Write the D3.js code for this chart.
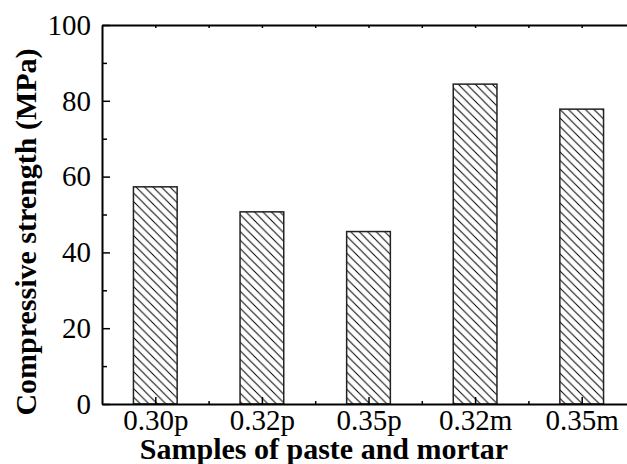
<!DOCTYPE html>
<html>
<head>
<meta charset="utf-8">
<script src="https://cdn.jsdelivr.net/npm/d3@7"></script>
<style>
  body { margin: 0; background: #fff; }
  svg { display: block; }
  text { font-family: "Times New Roman", "Liberation Serif", serif; fill: #000; }
</style>
</head>
<body>
<div id="chart"></div>
<script>
// data
var categories = ["0.30p", "0.32p", "0.35p", "0.32m", "0.35m"];
var strength = [57.3, 50.7, 45.5, 84.4, 77.8];
var yTicks = [0, 20, 40, 60, 80, 100];
var yMinor = [10, 30, 50, 70, 90];

function init(){

var w = 627;
var h = 464;

var dataset = categories.map(function(c, i) {
  return { name: c, pos: i + 1, value: strength[i] };
});

// x runs past the right edge like in the original (cropped)
var xScale = d3.scaleLinear()
                .domain([0.5, 5.5])
                .range([102, 635]);
var yScale = d3.scaleLinear()
                .domain([0, 100])
                .range([404, 25]);

var barW = (xScale(2) - xScale(1)) * 0.41;

var svg = d3.select("#chart")
  .append("svg")
  .attr("width", w)
  .attr("height", h);

// hatch pattern "\"
var defs = svg.append("defs");
var pat = defs.append("pattern")
  .attr("id", "hatch")
  .attr("patternUnits", "userSpaceOnUse")
  .attr("width", 8.5)
  .attr("height", 8.5);
pat.append("rect").attr("width", 8.5).attr("height", 8.5).attr("fill", "#fff");
pat.append("path")
  .attr("d", "M0,0L8.5,8.5M-2,6.5L2,10.5M6.5,-2L10.5,2")
  .attr("stroke", "#000")
  .attr("stroke-width", 1);

// bars
svg.selectAll("rect.bar")
  .data(dataset)
  .enter()
  .append("rect")
  .attr("class", "bar")
  .attr("x", function(d) { return xScale(d.pos) - barW / 2; })
  .attr("y", function(d) { return yScale(d.value); })
  .attr("width", barW)
  .attr("height", function(d) { return yScale(0) - yScale(d.value); })
  .attr("fill", "url(#hatch)")
  .attr("stroke", "#222")
  .attr("stroke-width", 1.5);

var fs = 29;

// left axis, ticks inside
var yAxis = d3.axisLeft(yScale)
  .tickValues(yTicks)
  .tickSizeInner(-8)
  .tickSizeOuter(0)
  .tickPadding(11)
  .tickFormat(d3.format("d"));
var gy = svg.append("g")
  .attr("transform", "translate(" + xScale(0.5) + ",0)")
  .call(yAxis);
gy.selectAll("text").style("font-size", fs + "px");

svg.append("g")
  .attr("transform", "translate(" + xScale(0.5) + ",0)")
  .call(d3.axisLeft(yScale).tickValues(yMinor).tickSizeInner(-5).tickSizeOuter(0).tickFormat(""))
  .select(".domain").remove();

// bottom axis
var xAxis = d3.axisBottom(xScale)
  .tickValues(dataset.map(function(d) { return d.pos; }))
  .tickSizeInner(-7)
  .tickSizeOuter(0)
  .tickPadding(5)
  .tickFormat(function(v) { return categories[v - 1]; });
var gx = svg.append("g")
  .attr("transform", "translate(0," + yScale(0) + ")")
  .call(xAxis);
gx.selectAll("text").style("font-size", fs + "px");

svg.append("g")
  .attr("transform", "translate(0," + yScale(0) + ")")
  .call(d3.axisBottom(xScale).tickValues([1.5, 2.5, 3.5, 4.5]).tickSizeInner(-3).tickSizeOuter(0).tickFormat(""))
  .select(".domain").remove();

// top axis
svg.append("g")
  .attr("transform", "translate(0," + yScale(100) + ")")
  .call(d3.axisTop(xScale).tickValues([1, 1.5, 2, 2.5, 3, 3.5, 4, 4.5, 5]).tickSizeInner(-3).tickSizeOuter(0).tickFormat(""));

svg.selectAll(".domain").attr("stroke-width", 2).attr("stroke", "#000");
svg.selectAll(".tick line").attr("stroke-width", 1.5).attr("stroke", "#000");

// axis titles
svg.append("text")
  .attr("transform", "translate(36,232) rotate(-90)")
  .attr("text-anchor", "middle")
  .style("font-size", "30px")
  .style("font-weight", "bold")
  .text("Compressive strength (MPa)");

svg.append("text")
  .attr("x", 324)
  .attr("y", 459)
  .attr("text-anchor", "middle")
  .style("font-size", "30px")
  .style("font-weight", "bold")
  .text("Samples of paste and mortar");
}

window.onload = init;
</script>
</body>
</html>
